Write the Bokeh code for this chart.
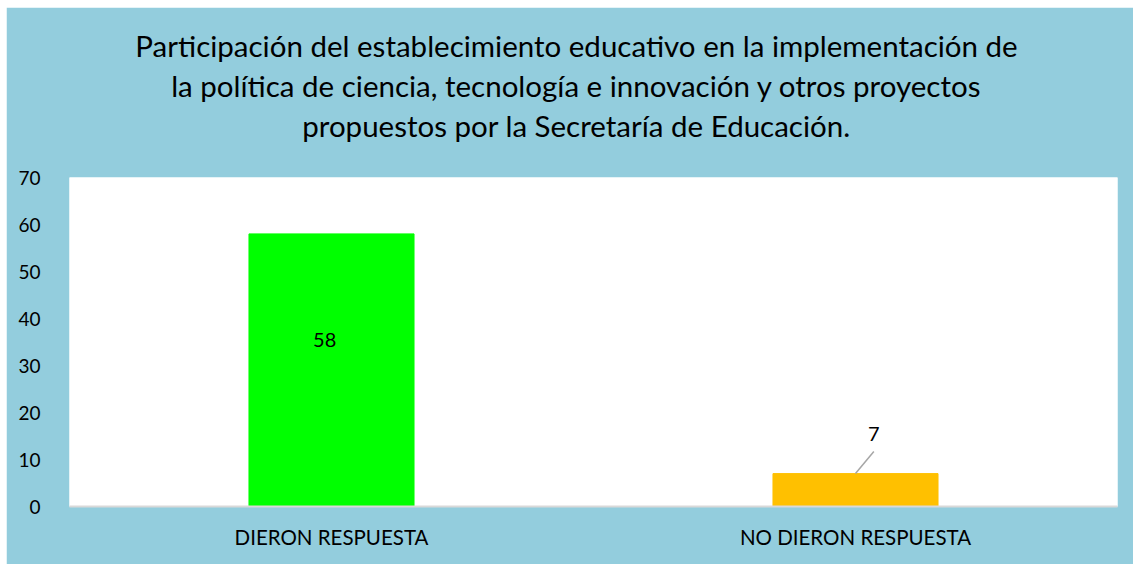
from bokeh.plotting import figure
from bokeh.models import Title, ColumnDataSource, FixedTicker
from bokeh.embed import file_html
from bokeh.resources import INLINE
from bokeh.core.properties import value

categories = ["DIERON RESPUESTA", "NO DIERON RESPUESTA"]
counts = [58, 7]
colors = ["#00FF00", "#FFC000"]
y_ticks = [0, 10, 20, 30, 40, 50, 60, 70]
title_lines = [
    "Participación del establecimiento educativo en la implementación de",
    "la política de ciencia, tecnología e innovación y otros proyectos",
    "propuestos por la Secretaría de Educación.",
]

FONT = "Lato"
BG = "#93CDDD"

p = figure(x_range=categories, y_range=(0, 70), width=1127, height=557,
           output_backend="svg", toolbar_location=None,
           margin=(7, 0, 1, 6),
           min_border_left=63, min_border_right=16, min_border_bottom=58,
           min_border_top=170)
p.background_fill_color = "white"
p.border_fill_color = BG
p.outline_line_color = None

src = ColumnDataSource(dict(x=categories, top=counts, color=colors))
p.vbar(x="x", top="top", width=0.315, color="color", source=src)

# data labels
p.text(x=[(categories[0], -0.013)], y=[counts[0] * 0.61], text=[str(counts[0])],
       text_align="center", text_baseline="middle", text_font=value(FONT),
       text_font_size="20px", text_color="black")
p.segment(x0=[categories[1]], y0=[counts[1]],
          x1=[(categories[1], 0.035)], y1=[counts[1] + 4.7],
          line_color="#A6A6A6", line_width=1.5)
p.text(x=[(categories[1], 0.035)], y=[counts[1] + 8.5], text=[str(counts[1])],
       text_align="center", text_baseline="middle", text_font=value(FONT),
       text_font_size="20px", text_color="black")

# axes
p.xgrid.visible = False
p.ygrid.visible = False
p.yaxis.ticker = FixedTicker(ticks=y_ticks)
p.yaxis.axis_line_color = None
p.yaxis.major_tick_line_color = None
p.yaxis.minor_tick_line_color = None
p.yaxis.major_label_standoff = 23
p.yaxis.major_label_text_font = FONT
p.yaxis.major_label_text_font_size = "19px"
p.yaxis.major_label_text_color = "black"

p.xaxis.axis_line_color = "#D9D9D9"
p.xaxis.axis_line_width = 2
p.xaxis.major_tick_line_color = None
p.xaxis.minor_tick_line_color = None
p.xaxis.major_label_standoff = 12
p.xaxis.major_label_text_font = FONT
p.xaxis.major_label_text_font_size = "20.5px"
p.xaxis.major_label_text_color = "black"

# spacer between plot area and title block
p.add_layout(Title(text=" ", text_font_size="10px", standoff=20), "above")
# title lines: bottom line first so it sits nearest the plot
for line in reversed(title_lines):
    p.add_layout(Title(text=line, align="center", text_font=FONT,
                       text_font_size="29.5px", text_font_style="normal",
                       text_color="black", standoff=3,
                       padding=(0, 34, 0, 0)), "above")

open("out.html", "w").write(file_html(p, INLINE))
